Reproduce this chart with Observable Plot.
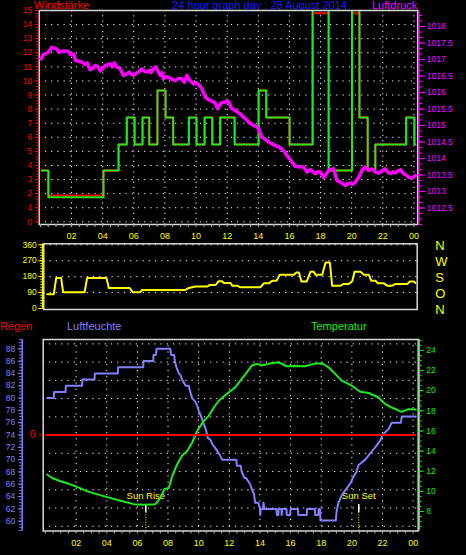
<!DOCTYPE html>
<html>
<head>
<meta charset="utf-8">
<script src="https://cdn.jsdelivr.net/npm/d3@7"></script>
<script src="https://cdn.jsdelivr.net/npm/@observablehq/plot@0.6"></script>
<style>
  html, body { margin: 0; padding: 0; background: #000; }
  #root { position: relative; width: 466px; height: 555px; background: #000; overflow: hidden;
          font-family: "Liberation Sans", Arial, sans-serif; }
  .lbl { position: absolute; font-size: 11px; line-height: 11px; white-space: nowrap; }
  svg { position: absolute; left: 0; }
</style>
</head>
<body>
<div id="root">
  <div class="lbl" style="left:34px; top:0px; color:#ff0000;">Windstärke</div>
  <div class="lbl" style="left:172px; top:0px; color:#1c1cff;">24 hour graph day : 28 August 2014</div>
  <div class="lbl" style="left:372px; top:0px; color:#ff00ff;">Luftdruck</div>
  <div class="lbl" style="left:0px; top:321px; color:#ff0000;">Regen</div>
  <div class="lbl" style="left:67px; top:321px; color:#8080ff;">Luftfeuchte</div>
  <div class="lbl" style="left:311px; top:321px; color:#1ee81e;">Temperatur</div>
</div>
<script>
// ---------- tick labels ----------
const xTickHours  = [2, 4, 6, 8, 10, 12, 14, 16, 18, 20, 22, 24];
const xTickLabels = ["02","04","06","08","10","12","14","16","18","20","22","00"];
const windTicks   = [0,1,2,3,4,5,6,7,8,9,10,11,12,13,14,15];
const pressTicks  = [1012.5,1013,1013.5,1014,1014.5,1015,1015.5,1016,1016.5,1017,1017.5,1018];
const dirTicks    = [0, 90, 180, 270, 360];
const dirLetters  = ["N", "O", "S", "W", "N"];
const humTicks    = [60,62,64,66,68,70,72,74,76,78,80,82,84,86,88];
const tempTicks   = [8,10,12,14,16,18,20,22,24];
const rainTicks   = [0];

// ---------- wind (Windstärke) ----------
const windTime = [0.08,0.51,4.05,5.02,5.55,6.05,6.56,6.99,7.52,8.04,8.53,9.54,10.03,10.55,11.04,11.55,12.48,14.02,14.51,16.01,17.49,18.52,20.02,20.5,21.03,21.52,23.5,24.03,24.1];
const windGust = [3.64,1.75,3.64,5.49,7.4,5.49,7.4,5.49,9.32,7.4,5.49,7.4,5.49,7.4,5.49,7.4,5.49,9.32,7.4,5.49,16,3.64,16,7.4,3.7,5.49,7.4,5.49,5.49];
const windAvg  = [3.64,1.87,3.64,5.49,7.4,5.49,7.4,5.49,9.32,7.4,5.49,7.4,5.49,7.4,5.49,7.4,5.49,9.32,7.4,5.49,14.8,3.64,14.8,7.4,3.7,5.49,7.4,5.49,5.49];

// ---------- pressure (Luftdruck) ----------
const pressTime = [0.04,0.19,0.51,0.73,1.05,1.2,1.5,1.8,1.91,2.12,2.27,2.66,2.87,3.0,3.19,3.35,3.52,3.7,3.84,4.0,4.16,4.48,4.6,4.75,4.85,5.0,5.12,5.34,5.5,5.7,5.85,5.98,6.15,6.3,6.52,6.65,6.84,7.0,7.1,7.27,7.4,7.53,7.7,7.8,7.91,8.05,8.23,8.45,8.66,8.85,9.09,9.24,9.41,9.5,9.63,9.84,10.0,10.16,10.38,10.59,10.75,10.91,11.1,11.23,11.38,11.5,11.62,11.8,11.98,12.09,12.3,12.45,12.63,12.85,13.05,13.2,13.38,13.55,13.7,13.85,14.02,14.23,14.45,14.66,14.85,15.09,15.3,15.52,15.7,15.84,16.0,16.16,16.38,16.6,16.91,17.13,17.34,17.5,17.66,17.8,17.99,18.2,18.35,18.52,18.84,18.95,19.06,19.2,19.38,19.59,19.75,19.91,20.05,20.23,20.45,20.66,20.87,21.09,21.25,21.41,21.55,21.73,21.95,22.16,22.3,22.48,22.65,22.8,22.95,23.13,23.34,23.5,23.66,23.88,24.09];
const pressVal  = [1017.02,1017.15,1017.22,1017.37,1017.32,1017.22,1017.26,1017.25,1017.15,1017.17,1016.97,1016.92,1016.85,1016.9,1016.69,1016.72,1016.82,1016.78,1016.65,1016.72,1016.82,1016.87,1016.78,1016.9,1016.8,1016.75,1016.72,1016.52,1016.55,1016.62,1016.55,1016.52,1016.58,1016.62,1016.72,1016.65,1016.62,1016.68,1016.6,1016.72,1016.78,1016.67,1016.52,1016.6,1016.42,1016.48,1016.46,1016.4,1016.36,1016.42,1016.42,1016.31,1016.52,1016.45,1016.36,1016.26,1016.3,1016.24,1016.11,1015.86,1015.8,1015.76,1015.72,1015.68,1015.51,1015.6,1015.68,1015.7,1015.74,1015.71,1015.51,1015.48,1015.41,1015.35,1015.25,1015.2,1015.1,1015.05,1015.0,1014.98,1014.9,1014.65,1014.58,1014.5,1014.45,1014.39,1014.35,1014.29,1014.2,1014.09,1014.0,1013.89,1013.76,1013.75,1013.74,1013.59,1013.66,1013.6,1013.54,1013.6,1013.59,1013.43,1013.52,1013.64,1013.69,1013.5,1013.33,1013.3,1013.25,1013.18,1013.24,1013.25,1013.22,1013.28,1013.43,1013.64,1013.74,1013.64,1013.68,1013.66,1013.58,1013.56,1013.62,1013.69,1013.6,1013.54,1013.6,1013.56,1013.62,1013.66,1013.54,1013.5,1013.43,1013.41,1013.48];

// ---------- wind direction ----------
const dirTime = [0.11,0.54,0.7,1.02,1.15,2.55,2.72,3.98,4.13,5.5,5.7,6.16,6.31,9.14,9.35,9.79,10.55,10.73,11.1,11.31,11.53,11.64,12.08,12.19,12.55,12.68,14.03,14.25,14.58,14.8,15.08,15.29,16.21,16.38,16.54,16.71,17.04,17.3,17.51,17.62,18.06,18.28,18.56,18.71,19.26,19.47,19.8,20.02,20.17,20.56,20.78,21.1,21.26,21.54,21.69,22.08,22.3,22.63,22.85,23.61,23.78,24.04,24.15];
const dirVal  = [80,80,173,173,92,92,173,173,116,116,92,92,105,105,116,124,124,133,133,154,154,144,144,129,129,120,120,142,142,157,157,191,191,204,204,152,152,208,208,191,191,260,260,129,129,139,139,154,208,208,191,191,157,157,142,142,129,129,139,139,152,152,144];

// ---------- humidity (Luftfeuchte) ----------
const humTime = [0.11,0.54,0.56,1.31,1.33,2.39,2.41,3.2,3.22,4.72,4.74,6.38,6.4,7.03,7.05,7.2,7.25,8.15,8.2,8.4,8.44,8.55,8.7,8.8,8.92,9.15,9.35,9.45,9.57,9.75,9.86,10.0,10.16,10.33,10.49,10.6,10.75,10.9,11.05,11.3,11.53,12.45,12.5,12.75,12.81,13.0,13.1,13.36,13.5,13.6,13.69,13.9,14.0,14.02,14.05,14.2,14.23,14.28,15.08,15.1,15.2,15.22,15.4,15.42,15.45,15.73,15.75,15.97,16.0,16.48,16.5,17.05,17.08,17.58,17.6,17.8,17.83,17.92,17.95,18.95,19.0,19.12,19.34,19.56,19.89,20.1,20.3,20.43,20.87,21.2,21.52,21.85,22.0,22.4,22.6,23.2,23.26,24.17];
const humVal  = [80,80,81,81,82,82,83,83,84,84,85,85,86,86,87,87,88,88,87,87,86,85,84,83.8,83,82,82,81,80,79.5,79,78,77,75.8,74.7,73.5,73.3,72.5,72,71.1,70,70,69,69,68,67,67,66,65,64.5,63,63,62,61,62,62,63,62,62,61,61,62,62,61,62,62,61,61,62,62,61,61,62,62,61,61,62,62,60.1,60.1,61.5,63,64.2,65,66.1,67.2,68,69.1,70,71,72,73.1,74,75,76,76,77,77];

// ---------- temperature (Temperatur) ----------
const tempTime = [0.11,0.43,0.98,1.4,1.85,2.3,2.72,3.4,4.02,4.9,5.76,6.42,7.18,7.5,7.77,8.05,8.27,8.59,8.92,9.25,9.57,9.9,10.33,10.66,10.99,11.31,11.75,11.95,12.38,12.81,13.14,13.47,13.79,14.12,14.56,15.21,15.75,16.4,16.95,17.5,18.04,18.48,18.91,19.34,20.0,20.54,21.09,21.74,22.18,22.61,23.26,23.7,24.17];
const tempVal  = [11.67,11.33,11.0,10.8,10.57,10.3,10.0,9.7,9.43,9.07,8.73,8.67,8.73,9.33,10.23,10.33,11.5,12.67,13.57,14.0,14.83,16.0,17.0,17.5,18.33,19.0,19.57,19.83,20.33,21.17,21.83,22.5,22.67,22.5,22.67,22.83,22.43,22.45,22.43,22.67,22.73,22.33,21.67,21.0,20.5,19.9,19.77,19.33,18.67,18.33,17.9,18.17,18.13];

// ---------- rain (Regen) ----------
const rainTime = [0.07, 24.15];
const rainVal  = [0, 0];

// ---------- sun events ----------
const sunLabels = ["Sun Rise", "Sun Set"];
const sunHours  = [6.55, 20.45];

// ---------- build tables ----------
const wind  = windTime.map((h, i) => ({h, gust: windGust[i], avg: windAvg[i]}));
const press = pressTime.map((h, i) => ({h, p: pressVal[i]}));
const dir   = dirTime.map((h, i) => ({h, d: dirVal[i]}));
const hum   = humTime.map((h, i) => ({h, v: humVal[i]}));
const temp  = tempTime.map((h, i) => ({h, v: tempVal[i]}));
const rain  = rainTime.map((h, i) => ({h, v: rainVal[i]}));
const sun   = sunHours.map((h, i) => ({h, label: sunLabels[i]}));

const GREEN = "#1ee81e", BLUE = "#8080ff", MAG = "#ff00ff", YEL = "#ffff00", RED = "#ff0000";
const FRAME = "#d8d8d8", TICKC = "#b0b0b0";
const font = {background: "transparent", fontFamily: "Liberation Sans, Arial, sans-serif", fontSize: "8.5px", overflow: "visible"};
const xLab = d => xTickLabels[xTickHours.indexOf(d)];
const plain = d => String(d);
const none = () => "";
const root = document.getElementById("root");
function add(top, svg) { svg.style.top = top + "px"; root.appendChild(svg); }

// ===== TOP PANEL =====
const topDims = {width: 466, height: 245, marginTop: 10, marginBottom: 21, marginLeft: 38.7, marginRight: 48.7};
const topX = [-0.08, 24.25];

add(0, Plot.plot({
  ...topDims, style: font,
  x: {domain: topX, axis: null},
  y: {domain: [-0.19, 15], axis: null},
  marks: [
    Plot.ruleY(windTicks.slice(0, -1), {stroke: "#fff", strokeDasharray: "1.2,5"}),
    Plot.ruleX(xTickHours, {stroke: "#fff", strokeDasharray: "1.2,4"}),
    Plot.line(wind, {x: "h", y: "avg", curve: "step-after", stroke: RED, strokeWidth: 2, clip: true}),
    Plot.line(wind, {x: "h", y: "gust", curve: "step-after", stroke: GREEN, strokeWidth: 2, clip: true}),
    Plot.frame({stroke: FRAME, strokeWidth: 1.5}),
    Plot.axisY(d3.range(0, 15.01, 0.2), {anchor: "left", tickSize: 2.5, tickFormat: none, color: RED, label: null}),
    Plot.axisY(windTicks, {anchor: "left", tickSize: 4, tickPadding: 3, tickFormat: plain, color: RED, label: null}),
    Plot.axisX(d3.range(0, 24.01, 0.5), {anchor: "bottom", tickSize: 3, tickFormat: none, color: TICKC, label: null}),
    Plot.axisX(xTickHours, {anchor: "bottom", tickSize: 0, tickPadding: 8, tickFormat: xLab, color: YEL, fontSize: 9, label: null})
  ]
}));

add(0, Plot.plot({
  ...topDims, style: font,
  x: {domain: topX, axis: null},
  y: {domain: [1012.0, 1018.485], axis: null},
  marks: [
    Plot.line(press, {x: "h", y: "p", stroke: MAG, strokeWidth: 3.5, clip: true}),
    Plot.ruleX([topX[1]], {stroke: MAG, strokeWidth: 1.2, dx: 1.2}),
    Plot.axisY(d3.range(1012, 1018.49, 1/6), {anchor: "right", tickSize: 4, tickFormat: none, color: MAG, label: null}),
    Plot.axisY(pressTicks, {anchor: "right", tickSize: 7, tickPadding: 2, tickFormat: plain, color: MAG, label: null})
  ]
}));

// ===== MIDDLE PANEL (wind direction) =====
const midX = [-0.11, 24.26];
add(230, Plot.plot({
  width: 466, height: 95, marginTop: 13.3, marginBottom: 16, marginLeft: 43.3, marginRight: 49.3,
  style: font,
  x: {domain: midX, axis: null},
  y: {domain: [-5.65, 365.65], axis: null},
  marks: [
    Plot.ruleY(dirTicks.slice(1), {stroke: "#fff", strokeDasharray: "1.2,5"}),
    Plot.line(dir, {x: "h", y: "d", stroke: YEL, strokeWidth: 2, clip: true}),
    Plot.frame({stroke: FRAME, strokeWidth: 1.5}),
    Plot.ruleX([midX[0]], {stroke: YEL, strokeWidth: 1.2, dx: -1.2}),
    Plot.axisY(d3.range(0, 360.1, 15), {anchor: "left", tickSize: 3, tickFormat: none, color: YEL, label: null}),
    Plot.axisY(dirTicks, {anchor: "left", tickSize: 5, tickPadding: 2, tickFormat: plain, color: YEL, label: null}),
    Plot.axisY(dirTicks, {anchor: "right", tickSize: 0, tickPadding: 18, dy: 1.5,
      tickFormat: d => dirLetters[dirTicks.indexOf(d)], color: YEL, fontSize: 13, label: null})
  ]
}));

// ===== BOTTOM PANEL =====
const botDims = {width: 466, height: 235, marginTop: 19, marginBottom: 24.5, marginLeft: 42.7, marginRight: 48.3};
const botX = [-0.15, 24.33];
const rainDomain = [-5.26, 5.24];

// background: frame, grid, x axis, sun markers
add(320, Plot.plot({
  ...botDims, style: font,
  x: {domain: botX, axis: null},
  y: {domain: rainDomain, axis: null},
  marks: [
    Plot.ruleY(d3.range(-5, 5.01, 1), {stroke: "#fff", strokeDasharray: "1.2,5"}),
    Plot.ruleX(xTickHours, {stroke: "#fff", strokeDasharray: "1.2,5"}),
    Plot.ruleX(sun, {x: "h", stroke: "#fff", strokeWidth: 1.5, insetTop: 165, insetBottom: 18.5}),
    Plot.ruleX(sun, {x: "h", stroke: YEL, strokeWidth: 1, strokeDasharray: "1,1.5", insetTop: 173}),
    Plot.text(sun, {x: "h", text: "label", frameAnchor: "bottom", dy: -32.5, fill: YEL, fontSize: 9.5}),
    Plot.frame({stroke: FRAME, strokeWidth: 1.5}),
    Plot.axisX(d3.range(0, 24.01, 0.5), {anchor: "bottom", tickSize: 3, tickFormat: none, color: TICKC, label: null}),
    Plot.axisX(xTickHours, {anchor: "bottom", tickSize: 0, tickPadding: 8.5, tickFormat: xLab, color: YEL, fontSize: 9, label: null})
  ]
}));

// humidity
add(320, Plot.plot({
  ...botDims, style: font,
  x: {domain: botX, axis: null},
  y: {domain: [58.41, 89.51], axis: null},
  marks: [
    Plot.line(hum, {x: "h", y: "v", stroke: BLUE, strokeWidth: 2, clip: true}),
    Plot.ruleX([botX[0]], {stroke: BLUE, strokeWidth: 1.5, dx: -21}),
    Plot.axisY(d3.range(58.5, 89.51, 0.5), {anchor: "left", tickSize: 2.5, dx: -21, tickFormat: none, color: BLUE, label: null}),
    Plot.axisY(humTicks, {anchor: "left", tickSize: 4, tickPadding: 3, dx: -21, tickFormat: plain, color: BLUE, label: null})
  ]
}));

// temperature
add(320, Plot.plot({
  ...botDims, style: font,
  x: {domain: botX, axis: null},
  y: {domain: [6.06, 25.09], axis: null},
  marks: [
    Plot.line(temp, {x: "h", y: "v", stroke: GREEN, strokeWidth: 2, clip: true}),
    Plot.ruleX([botX[1]], {stroke: GREEN, strokeWidth: 1.2, dx: 1.2}),
    Plot.axisY(d3.range(6.5, 25.01, 0.5), {anchor: "right", tickSize: 3, tickFormat: none, color: GREEN, label: null}),
    Plot.axisY(tempTicks, {anchor: "right", tickSize: 5, tickPadding: 3, tickFormat: plain, color: GREEN, label: null})
  ]
}));

// rain
add(320, Plot.plot({
  ...botDims, style: font,
  x: {domain: botX, axis: null},
  y: {domain: rainDomain, axis: null},
  marks: [
    Plot.line(rain, {x: "h", y: "v", stroke: RED, strokeWidth: 2}),
    Plot.axisY(rainTicks, {anchor: "left", tickSize: 4, tickPadding: 4, tickFormat: plain, color: RED, fontSize: 10, label: null})
  ]
}));
</script>
</body>
</html>
